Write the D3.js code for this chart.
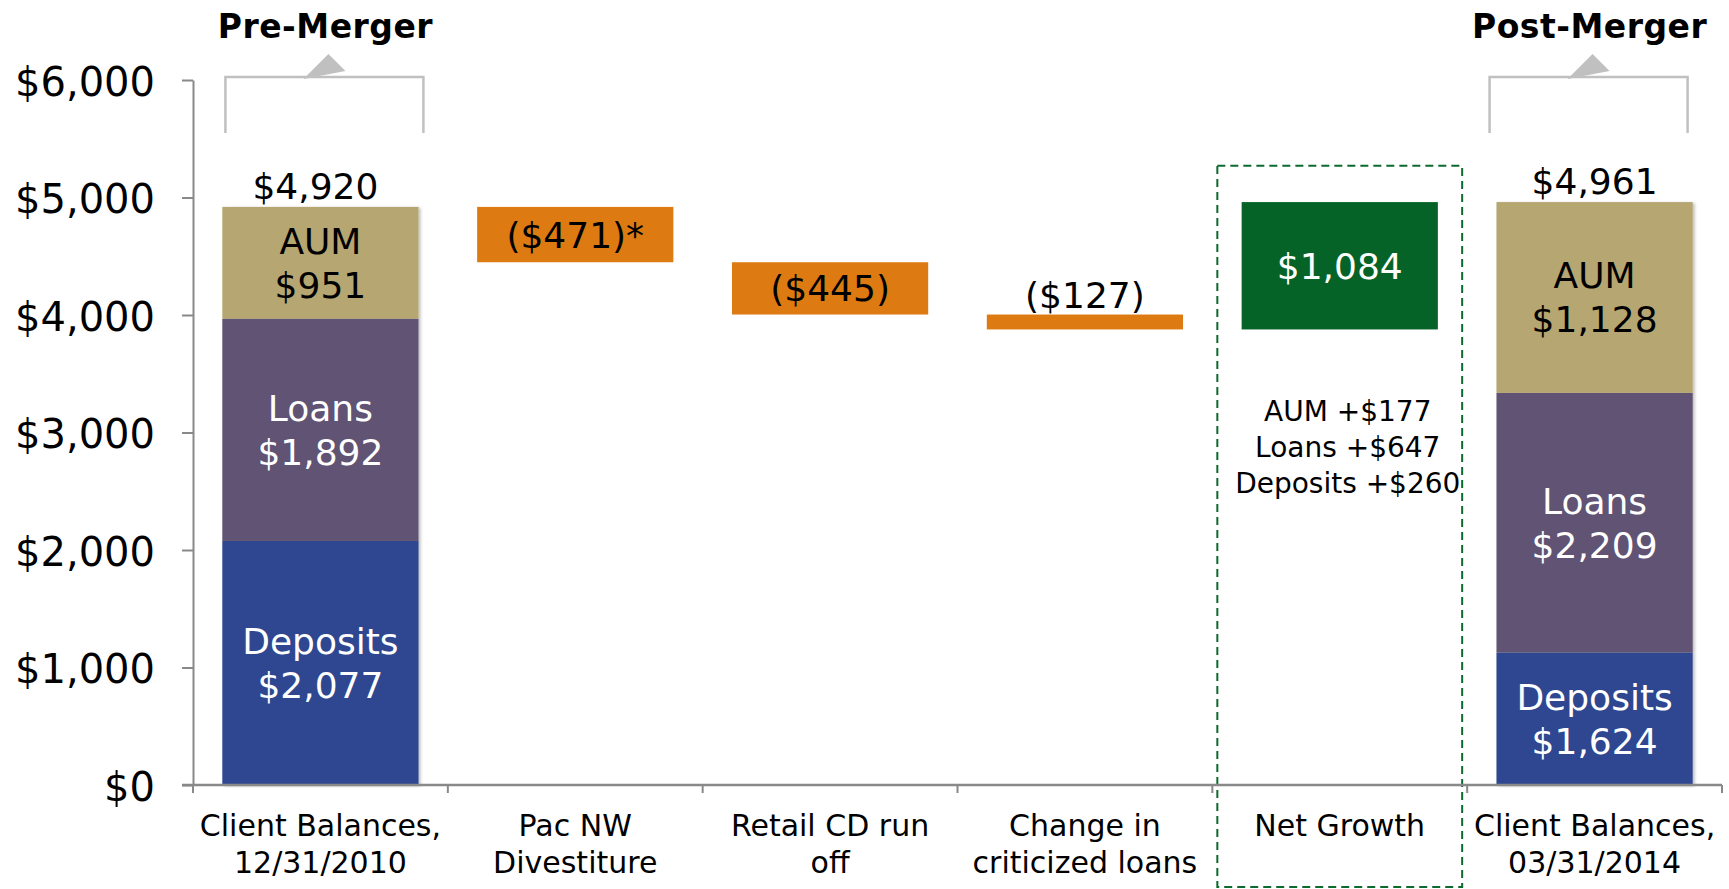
<!DOCTYPE html>
<html><head><meta charset="utf-8">
<script src="https://cdn.jsdelivr.net/npm/d3@7/dist/d3.min.js"></script>
<style>
html,body{margin:0;padding:0;background:#fff;}
svg{display:block;font-family:"DejaVu Sans",sans-serif;}
</style></head>
<body>
<svg id="chart" width="1729" height="889"></svg>
<script>
// ---------- data ----------
const categories = ["Client Balances,|12/31/2010","Pac NW|Divestiture","Retail CD run|off","Change in|criticized loans","Net Growth","Client Balances,|03/31/2014"];
const yTicks = [0,1000,2000,3000,4000,5000,6000];
const segmentNames = ["Deposits","Loans","AUM"];
const segmentColors = ["#2D4690","#615373","#B5A672"];
const segmentTextColors = ["#ffffff","#ffffff","#000000"];
// stacked bar values as drawn (bottom to top)
const preValues = [2077,1892,951];
const postValuesDrawn = [1128,2209,1624];
// labels printed on the stacked segments
const preLabels = ["$2,077","$1,892","$951"];
const postLabels = ["$1,624","$2,209","$1,128"];
const preTotalLabel = "$4,920";
const postTotalLabel = "$4,961";
// waterfall steps
const stepValues = [-471,-445,-127,1084];
const stepLabels = ["($471)*","($445)","($127)","$1,084"];
const netGrowthDetail = ["AUM +$177","Loans +$647","Deposits +$260"];
const bracketTitles = ["Pre-Merger","Post-Merger"];

// ---------- layout ----------
const svg = d3.select("#chart");
const W = 1729, H = 889;
const x = d3.scaleBand().domain(categories).range([193,1722]).paddingInner(0).paddingOuter(0);
const y = d3.scaleLinear().domain([0,6000]).range([785,80]);
const barW = x.bandwidth()*0.77;
const cx = c => x(c) + x.bandwidth()/2;
const axisColor = "#898989";

const defs = svg.append("defs");
const f = defs.append("filter").attr("id","shadow").attr("x","-10%").attr("y","-10%").attr("width","130%").attr("height","130%");
f.append("feDropShadow").attr("dx",2).attr("dy",1).attr("stdDeviation",1.5).attr("flood-color","#000").attr("flood-opacity",0.25);

// Net growth dashed box
const ng = categories[4];
const boxTop = y(5270);
svg.append("rect")
  .attr("x", x(ng)+5).attr("y", boxTop)
  .attr("width", x.bandwidth()-10).attr("height", H-2-boxTop)
  .attr("fill","none").attr("stroke","#0C6A2E").attr("stroke-width",2)
  .attr("stroke-dasharray","8,5");

// stacked bars
function stacked(cat, vals, labels){
  const g = svg.append("g").attr("filter","url(#shadow)");
  let base = 0;
  const segs = vals.map((v,i)=>{const s={i,v,y0:base,y1:base+v};base+=v;return s;});
  g.selectAll("rect").data(segs).join("rect")
    .attr("x", cx(cat)-barW/2).attr("width", barW)
    .attr("y", d=>y(d.y1)).attr("height", d=>y(d.y0)-y(d.y1))
    .attr("fill", d=>segmentColors[d.i]);
  const t = svg.append("g");
  segs.forEach(s=>{
    const mid = (y(s.y0)+y(s.y1))/2;
    const tx = t.append("text").attr("x",cx(cat)).attr("text-anchor","middle")
      .attr("font-size",36).attr("fill",segmentTextColors[s.i]);
    tx.append("tspan").attr("x",cx(cat)).attr("y",mid-22+13).text(segmentNames[s.i]);
    tx.append("tspan").attr("x",cx(cat)).attr("y",mid+22+13).text(labels[s.i]);
  });
  return base;
}
const preTotal = stacked(categories[0], preValues, preLabels);
const postTotal = stacked(categories[5], postValuesDrawn, postLabels);

svg.append("text").attr("x",cx(categories[0])-5).attr("y",y(preTotal)-8)
  .attr("text-anchor","middle").attr("font-size",36).text(preTotalLabel);
svg.append("text").attr("x",cx(categories[5])).attr("y",y(postTotal)-8)
  .attr("text-anchor","middle").attr("font-size",36).text(postTotalLabel);

// waterfall steps
let run = preTotal;
stepValues.forEach((v,i)=>{
  const cat = categories[i+1];
  const top = Math.max(run, run+v), bot = Math.min(run, run+v);
  run += v;
  const up = v>0;
  svg.append("rect").attr("x",cx(cat)-barW/2).attr("width",barW)
    .attr("y",y(top)).attr("height",y(bot)-y(top))
    .attr("fill", up ? "#066328" : "#DD7B12");
  const h = y(bot)-y(top);
  if (h > 45) {
    svg.append("text").attr("x",cx(cat)).attr("y",(y(top)+y(bot))/2+13)
      .attr("text-anchor","middle").attr("font-size",36)
      .attr("fill", up ? "#fff" : "#000").text(stepLabels[i]);
  } else {
    svg.append("text").attr("x",cx(cat)).attr("y",y(top)-7)
      .attr("text-anchor","middle").attr("font-size",36)
      .attr("fill","#000").text(stepLabels[i]);
  }
});

// net growth detail
const det = svg.append("text").attr("text-anchor","middle").attr("font-size",28).attr("fill","#000");
netGrowthDetail.forEach((s,i)=>{
  det.append("tspan").attr("x",cx(ng)+8).attr("y",421+i*36).text(s);
});

// y axis
const yAxis = d3.axisLeft(y).tickValues(yTicks).tickSize(11).tickSizeOuter(0).tickPadding(27)
  .tickFormat(d=>"$"+d3.format(",")(d));
const ya = svg.append("g").attr("transform","translate(193,0)").call(yAxis);
ya.select(".domain").attr("stroke",axisColor).attr("stroke-width",2);
ya.selectAll(".tick line").attr("stroke",axisColor).attr("stroke-width",2);
ya.selectAll(".tick text").attr("font-size",40).attr("font-family","DejaVu Sans").attr("fill","#000").attr("dy","0.38em");

// x axis
svg.append("line").attr("x1",182).attr("x2",1722).attr("y1",y(0)).attr("y2",y(0))
  .attr("stroke",axisColor).attr("stroke-width",2.5);
const edges = categories.map(c=>x(c)).concat([x.range()[1]]);
svg.selectAll(".xt").data(edges).join("line").attr("class","xt")
  .attr("x1",d=>d).attr("x2",d=>d).attr("y1",y(0)).attr("y2",y(0)+8)
  .attr("stroke",axisColor).attr("stroke-width",2);
categories.forEach(c=>{
  const lines = c.split("|");
  const t = svg.append("text").attr("text-anchor","middle").attr("font-size",30).attr("fill","#000");
  lines.forEach((l,i)=>t.append("tspan").attr("x",cx(c)).attr("y",836+i*37).text(l));
});

// brackets with arrows
[[categories[0],4],[categories[5],-6]].forEach(([cat,shift],i)=>{
  const c = cx(cat)+shift;
  const l = c-99, r = c+99, top = 77, bot = 133;
  svg.append("path").attr("d",`M${l},${bot}V${top}H${r}V${bot}`)
    .attr("fill","none").attr("stroke","#C0C0C0").attr("stroke-width",2.5);
  svg.append("path").attr("d",`M${c-21},${top+2}L${c+4},${top-23}L${c+21},${top-6}Z`)
    .attr("fill","#C0C0C0");
  svg.append("text").attr("x",c+1).attr("y",37.5).attr("text-anchor","middle")
    .attr("font-size",33).attr("font-weight","bold").attr("letter-spacing",0.5).text(bracketTitles[i]);
});
</script>
</body></html>
